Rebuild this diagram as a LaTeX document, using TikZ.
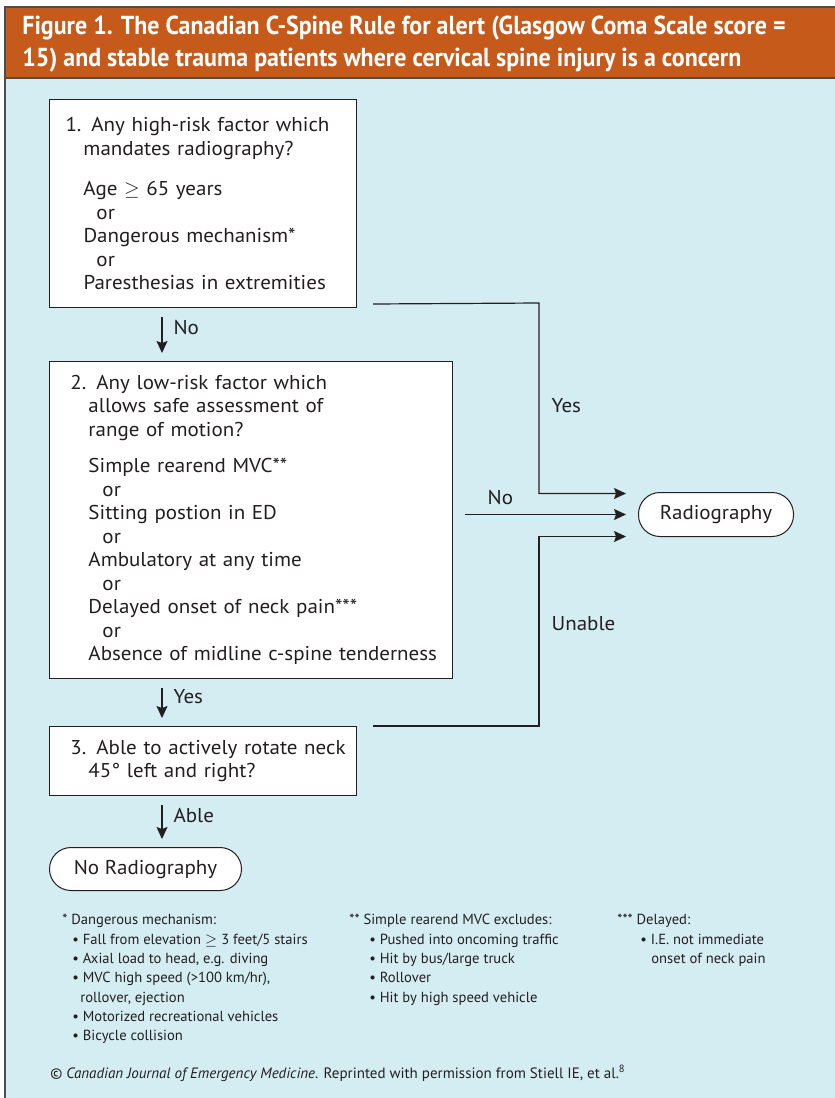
\documentclass[tikz,border=0pt]{standalone}
\usepackage{fontspec}
\setmainfont{PT Sans}
\newfontfamily\headfont{PT Sans}[FakeStretch=0.92]
\newfontfamily\bodyfont{PT Sans}[FakeStretch=1.05]
\usepackage{tikz}
\usetikzlibrary{positioning,arrows.meta,calc}
\usepackage{xcolor}
\definecolor{panelblue}{HTML}{D4EDF3}
\definecolor{headorange}{HTML}{C65A1B}
\definecolor{inkgray}{HTML}{231F20}

\begin{document}
\begin{tikzpicture}[x=0.5pt, y=-0.5pt,
  qbox/.style={draw=inkgray, line width=0.5pt, fill=white, anchor=north west,
    align=left, inner xsep=5pt, inner ysep=0pt, text=inkgray, font=\bodyfont\fontsize{10}{11.75}\selectfont},
  pill/.style={draw=inkgray, line width=0.5pt, fill=white, rounded corners=10.75pt,
    minimum height=21.5pt, inner sep=0pt, text=inkgray, font=\bodyfont\fontsize{10}{12}\selectfont},
  flow/.style={draw=inkgray, line width=0.6pt, -{Stealth[length=6pt, width=5.5pt, inset=1pt]}},
  lbl/.style={inner sep=0pt, text=inkgray, font=\bodyfont\fontsize{10}{12}\selectfont},
  note/.style={anchor=north west, align=left, inner sep=0pt, text=inkgray,
    font=\fontsize{7.3}{9.65}\selectfont}]
  \useasboundingbox (0,0) rectangle (835,1098);
  % Frame and title band
  \fill[white] (0,0) rectangle (835,1098);
  \fill[panelblue] (5,78) rectangle (835,1098);
  \fill[headorange] (5,7) rectangle (835,78);
  \draw[inkgray!80, line width=0.6pt] (5,1098) -- (5,7) -- (835,7);
  \draw[inkgray!80, line width=0.6pt] (5,78) -- (835,78);
  \node[anchor=north west, align=left, inner sep=0pt, text=white,
    font=\headfont\bfseries\fontsize{13}{16}\selectfont] (title) at (22,16)
    {Figure 1. The Canadian C-Spine Rule for alert (Glasgow Coma Scale score =\\
     15) and stable trauma patients where cervical spine injury is a concern};
  % Step 1: high-risk factors
  \node[qbox, text width=143.5pt, minimum height=104pt] (q1) at (49,99)
    {\hspace*{3pt}1. Any high-risk factor which\\
     \hspace*{12pt}mandates radiography?\\[8.5pt]
     \hspace*{12pt}Age $\geq$ 65 years\\
     \hspace*{18.5pt}or\\
     \hspace*{12pt}Dangerous mechanism*\\
     \hspace*{18.5pt}or\\
     \hspace*{12pt}Paresthesias in extremities};
  % Step 2: low-risk factors
  \node[qbox, text width=191.5pt, minimum height=158.5pt] (q2) at (49,361)
    {\hspace*{5.5pt}2. Any low-risk factor which\\
     \hspace*{14.5pt}allows safe assessment of\\
     \hspace*{14.5pt}range of motion?\\[6.5pt]
     \hspace*{14.5pt}Simple rearend MVC**\\
     \hspace*{21.5pt}or\\
     \hspace*{14.5pt}Sitting postion in ED\\
     \hspace*{21.5pt}or\\
     \hspace*{14.5pt}Ambulatory at any time\\
     \hspace*{21.5pt}or\\
     \hspace*{14.5pt}Delayed onset of neck pain***\\
     \hspace*{21.5pt}or\\
     \hspace*{14.5pt}Absence of midline c-spine tenderness};
  % Step 3: range of motion
  \node[qbox, text width=143.5pt, minimum height=34.5pt] (q3) at (49,726)
    {\hspace*{5.5pt}3. Able to actively rotate neck\\
     \hspace*{14.5pt}45° left and right?};
  % Outcomes
  \node[pill, anchor=north west, minimum width=96pt] (norad) at (49,847) {No Radiography};
  \node[pill, anchor=north west, minimum width=77.5pt, minimum height=22pt] (rad) at (638,492) {Radiography};
  % Down the left column
  \foreach \a/\b/\t in {q1/q2/No, q2/q3/Yes, q3/norad/Able} {
    \draw[flow] ($(\a.south west)+(113,9)$) -- node[lbl, pos=0.3, right=5.5pt] (\a-lbl) {\t}
      ($(\b.north west)+(113,-8)$);
  }
  % Across to radiography
  \coordinate (yesknee) at (539,303);
  \coordinate (unknee) at (539,726);
  \draw[flow] ([xshift=8pt, yshift=2pt]q1.south east) -- (yesknee)
    |- node[lbl, pos=0.27, right=6pt] (yes-lbl) {Yes} ([xshift=-6pt, yshift=10.5pt]rad.west);
  \draw[flow] ($(q2.east |- rad.west)+(12,0)$)
    -- node[lbl, pos=0.22, above=4.5pt] (no-lbl) {No} ([xshift=-6pt]rad.west);
  \draw[flow] ([xshift=8pt]q3.north east) -- (unknee)
    |- node[lbl, pos=0.27, right=6pt] (unable-lbl) {Unable} ([xshift=-6pt, yshift=-11pt]rad.west);
  % Footnotes
  \node[note] (fn1) at (62,914)
    {* Dangerous mechanism:\\
     \hspace*{5pt}• Fall from elevation $\geq$ 3 feet/5 stairs\\
     \hspace*{5pt}• Axial load to head, e.g. diving\\
     \hspace*{5pt}• MVC high speed (>100 km/hr),\\
     \hspace*{9pt}rollover, ejection\\
     \hspace*{5pt}• Motorized recreational vehicles\\
     \hspace*{5pt}• Bicycle collision};
  \node[note] (fn2) at (349,914)
    {** Simple rearend MVC excludes:\\
     \hspace*{10pt}• Pushed into oncoming traffic\\
     \hspace*{10pt}• Hit by bus/large truck\\
     \hspace*{10pt}• Rollover\\
     \hspace*{10pt}• Hit by high speed vehicle};
  \node[note] (fn3) at (617,914)
    {*** Delayed:\\
     \hspace*{11.5pt}• I.E. not immediate\\
     \hspace*{17pt}onset of neck pain};
  % Credit line
  \node[anchor=west, inner sep=0pt, text=inkgray, font=\fontsize{7.5}{9}\selectfont] (credit) at (50,1073)
    {© \textit{Canadian Journal of Emergency Medicine}. Reprinted with permission from Stiell IE, et al.\textsuperscript{8}};
\end{tikzpicture}
\end{document}
